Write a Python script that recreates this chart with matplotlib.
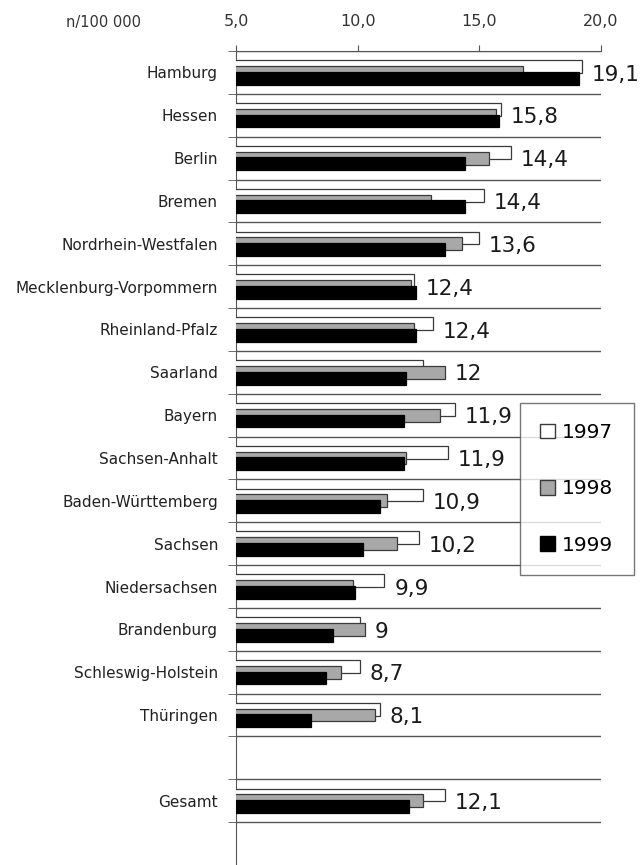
import numpy as np
import matplotlib
matplotlib.use('Agg')
import matplotlib.pyplot as plt
from matplotlib.patches import Patch

# Data (n/100 000), rows top to bottom; "" is the empty spacer row
categories = ['Hamburg', 'Hessen', 'Berlin', 'Bremen', 'Nordrhein-Westfalen',
              'Mecklenburg-Vorpommern', 'Rheinland-Pfalz', 'Saarland', 'Bayern',
              'Sachsen-Anhalt', 'Baden-Württemberg', 'Sachsen', 'Niedersachsen',
              'Brandenburg', 'Schleswig-Holstein', 'Thüringen', '', 'Gesamt']
v1997 = [19.2, 15.9, 16.3, 15.2, 15.0, 12.3, 13.1, 12.7, 14.0, 13.7,
         12.7, 12.5, 11.1, 10.1, 10.1, 10.9, np.nan, 13.6]
v1998 = [16.8, 15.7, 15.4, 13.0, 14.3, 12.2, 12.3, 13.6, 13.4, 12.0,
         11.2, 11.6, 9.8, 10.3, 9.3, 10.7, np.nan, 12.7]
v1999 = [19.1, 15.8, 14.4, 14.4, 13.6, 12.4, 12.4, 12.0, 11.9, 11.9,
         10.9, 10.2, 9.9, 9.0, 8.7, 8.1, np.nan, 12.1]
years = ['1997', '1998', '1999']
x_ticks = [5, 10, 15, 20]
x_ticklabels = ['5,0', '10,0', '15,0', '20,0']

plt.rcParams['font.family'] = ['DejaVu Sans']

fig = plt.figure(figsize=(6.42, 8.65), dpi=100)
ax = fig.add_axes([236 / 642, 0.0, 365 / 642, 1 - 51 / 865])

n_rows = len(categories) + 1  # one blank row at the bottom
y = np.arange(len(categories))
h = 0.30
off = 0.135
edge = '#3a3a3a'

ax.barh(y - off, v1997, height=h, color='white', edgecolor=edge, linewidth=0.9, zorder=3)
ax.barh(y, v1998, height=h, color='#a8a8a8', edgecolor=edge, linewidth=0.9, zorder=4)
ax.barh(y + off, v1999, height=h, color='black', edgecolor='black', linewidth=0.9, zorder=5)

# value labels (1999)
for i in range(len(categories)):
    if np.isnan(v1999[i]):
        continue
    top = np.nanmax([v1997[i], v1998[i], v1999[i]])
    txt = f"{v1999[i]:g}".replace('.', ',')
    ax.text(top + 0.4, y[i] + 0.05, txt, ha='left', va='center', fontsize=15.5,
            color='#1a1a1a', clip_on=False)

ax.set_xlim(5, 20)
ax.set_ylim(n_rows - 0.5, -0.5)

# row separators
for b in np.arange(-0.5, len(categories), 1.0):
    ax.axhline(b, color='#555555', lw=1.0, zorder=1)

ax.xaxis.tick_top()
ax.set_xticks(x_ticks)
ax.set_xticklabels(x_ticklabels, fontsize=11.5, color='#333333')
ax.tick_params(axis='x', direction='out', length=4, color='#555555', pad=12)

ax.set_yticks(y)
ax.set_yticklabels(categories, fontsize=11, color='#222222')
ax.set_yticks(np.arange(-0.5, len(categories), 1.0), minor=True)
ax.tick_params(axis='y', which='major', length=0, pad=13)
ax.tick_params(axis='y', which='minor', length=6, direction='out', color='#555555')

for s in ['right', 'bottom']:
    ax.spines[s].set_visible(False)
ax.spines['left'].set_color('#555555')
ax.spines['top'].set_color('#555555')

fig.text(104 / 642, 1 - 22 / 865, 'n/100 000', ha='center', va='center',
         fontsize=10.5, color='#333333')

handles = [Patch(facecolor='white', edgecolor=edge),
           Patch(facecolor='#a8a8a8', edgecolor=edge),
           Patch(facecolor='black', edgecolor='black')]
leg = fig.legend(handles, years, loc='upper left',
                 bbox_to_anchor=(520 / 642, 1 - 403 / 865),
                 fontsize=14.5, frameon=True, fancybox=False,
                 handlelength=0.75, handleheight=0.75, handletextpad=0.35,
                 labelspacing=1.85, borderpad=1.0, borderaxespad=0)
leg.get_frame().set_edgecolor('#555555')
leg.get_frame().set_linewidth(1.0)

fig.savefig('out.png', dpi=100)
